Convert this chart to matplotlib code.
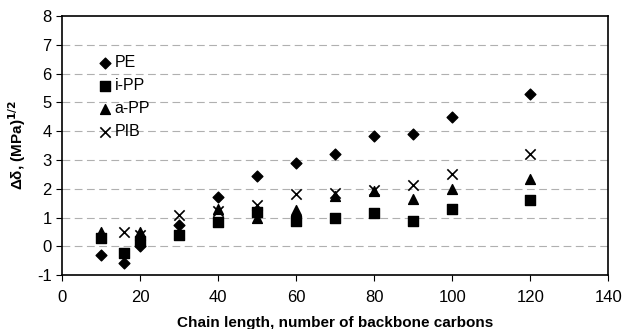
import matplotlib.pyplot as plt

plt.rcParams['font.family'] = ['Liberation Sans', 'DejaVu Sans']
plt.rcParams['axes.unicode_minus'] = False

x_pe = [10, 16, 20, 30, 40, 50, 60, 70, 80, 90, 100, 120]
pe = [-0.3, -0.57, 0.0, 0.75, 1.72, 2.45, 2.9, 3.2, 3.84, 3.9, 4.5, 5.28]

x_ipp = [10, 16, 20, 30, 40, 50, 60, 70, 80, 90, 100, 120]
ipp = [0.28, -0.25, 0.2, 0.4, 0.85, 1.2, 0.87, 0.98, 1.16, 0.88, 1.31, 1.6]

x_app = [10, 20, 30, 40, 50, 60, 70, 80, 90, 100, 120]
app = [0.5, 0.5, 0.45, 1.3, 1.0, 1.27, 1.75, 1.92, 1.63, 2.0, 2.35]

x_pib = [16, 20, 30, 40, 50, 60, 70, 80, 90, 100, 120]
pib = [0.5, 0.4, 1.1, 1.22, 1.42, 1.8, 1.85, 1.97, 2.12, 2.5, 3.2]

fig = plt.figure(figsize=(6.23, 3.29), dpi=100)
ax = fig.add_axes([0.0995, 0.164, 0.877, 0.787])

ax.scatter(x_pe, pe, marker='D', s=30, color='black', label='PE', zorder=3)
ax.scatter(x_ipp, ipp, marker='s', s=50, color='black', label='i-PP', zorder=3)
ax.scatter(x_app, app, marker='^', s=50, color='black', label='a-PP', zorder=3)
ax.scatter(x_pib, pib, marker='x', s=55, color='black', linewidths=1.2, label='PIB', zorder=3)

ax.set_xlim(0, 140)
ax.set_ylim(-1, 8)
ax.set_xticks(range(0, 141, 20))
ax.set_yticks(range(-1, 9))
for y in range(0, 8):
    ax.axhline(y, color='#b0b0b0', linestyle=(0, (7, 4)), linewidth=0.8, zorder=1)

for s in ax.spines.values():
    s.set_linewidth(1.2)
ax.tick_params(direction='out', labelsize=12, length=4)
ax.tick_params(axis='x', pad=7)

ax.set_xlabel('Chain length, number of backbone carbons', fontsize=11, fontweight='bold', labelpad=8)
ax.set_ylabel(r'Δδ, (MPa)$^{\mathbf{1/2}}$', fontsize=11, fontweight='bold', labelpad=6)

ax.legend(loc='upper left', bbox_to_anchor=(0.05, 0.875), frameon=False, fontsize=11.5,
          handletextpad=0.0, labelspacing=0.5, borderaxespad=0, handlelength=1.2)

fig.savefig('out.png', dpi=100)
